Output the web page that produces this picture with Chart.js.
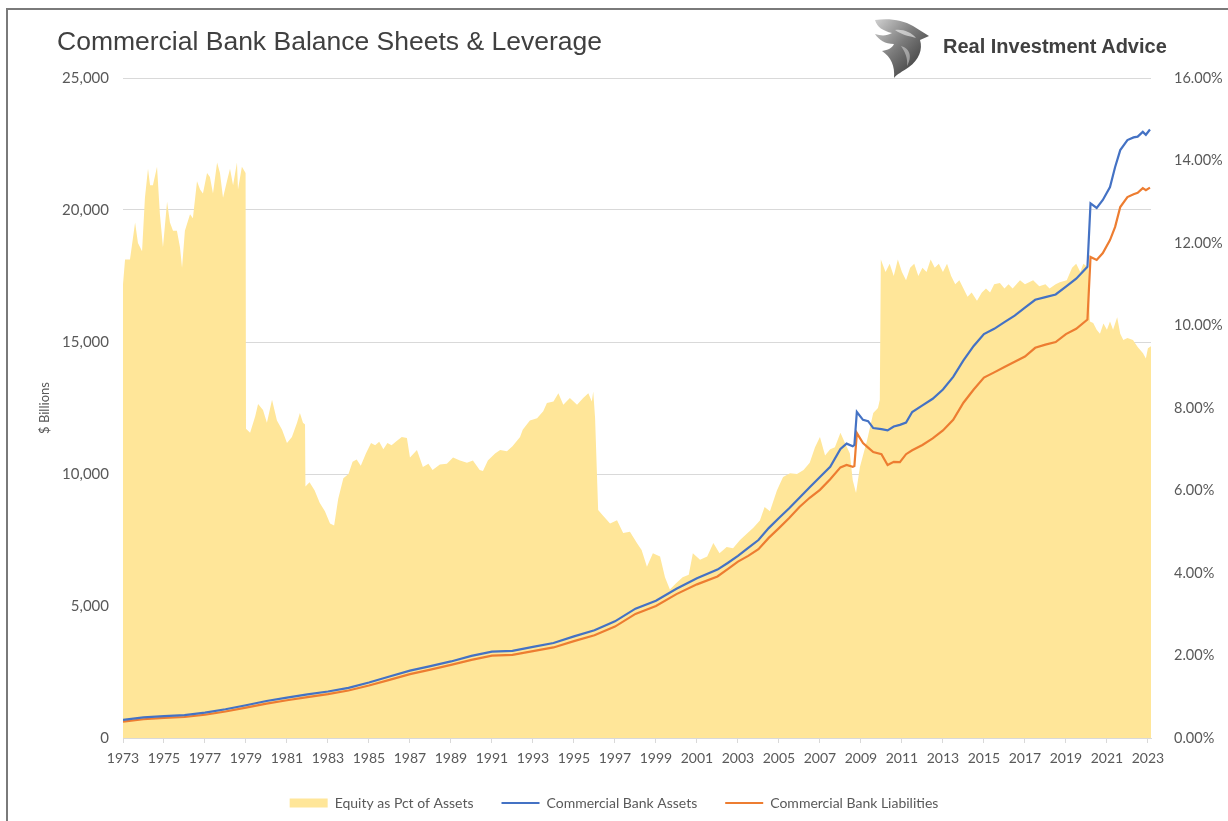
<!DOCTYPE html>
<html><head><meta charset="utf-8">
<script src="https://cdn.jsdelivr.net/npm/chart.js@4.4.0/dist/chart.umd.min.js"></script>
<style>
html,body{margin:0;padding:0;background:#fff;width:1228px;height:821px;overflow:hidden}
#wrap{position:relative;width:1228px;height:821px}
#frame{position:absolute;left:6px;top:8px;width:1260px;height:860px;border-left:2px solid #7a7a7a;border-top:2px solid #7a7a7a;pointer-events:none}
canvas{position:absolute;left:0;top:0}
#title{position:absolute;left:57px;top:26px;font:26.5px "Liberation Sans",Arial,sans-serif;color:#404040;white-space:nowrap}
#brand{position:absolute;left:943px;top:35px;font:bold 20px "Liberation Sans",Arial,sans-serif;color:#404040;white-space:nowrap}
#logo{position:absolute;left:871px;top:16px}
</style></head>
<body><div id="wrap">
<canvas id="c" width="1228" height="821"></canvas>
<div id="frame"></div>
<div id="title">Commercial Bank Balance Sheets &amp; Leverage</div>
<svg id="logo" width="62" height="62" viewBox="0 0 62 62">
<defs><linearGradient id="g" x1="0" y1="0" x2="1" y2="1"><stop offset="0" stop-color="#d0d0d0"/><stop offset="0.45" stop-color="#7a7a7a"/><stop offset="1" stop-color="#262626"/></linearGradient></defs>
<path d="M4 4 C18 2 32 4 42 10 L58 20 L49 24 C52 33 48 44 38 51 C31 56 26 58 23 62 C24 50 20 41 11 35 C17 34 21 32 23 28 C14 28 8 24 4 18 C10 20 16 20 21 17 C12 15 6 11 4 4 Z" fill="url(#g)"/>
<path d="M24 14 C32 13 40 16 45 22 C38 20 31 19 24 14 Z" fill="#fff" opacity="0.55"/>
<path d="M30 30 C38 32 42 40 36 50 C37 42 34 36 30 30 Z" fill="#fff" opacity="0.4"/>
</svg>
<div id="brand">Real Investment Advice</div>
</div>
<script>
// ---- data (year, value) ----
const xTickYears = [1973,1975,1977,1979,1981,1983,1985,1987,1989,1991,1993,1995,1997,1999,2001,2003,2005,2007,2009,2011,2013,2015,2017,2019,2021,2023];

const equityPct = [
[1973.00,11.0],[1973.10,11.6],[1973.34,11.6],[1973.59,12.5],[1973.73,12.0],[1973.93,11.8],
[1974.07,13.1],[1974.22,13.8],[1974.32,13.4],[1974.46,13.4],[1974.66,13.85],[1974.80,12.7],[1974.95,11.9],
[1975.15,13.0],[1975.29,12.5],[1975.44,12.3],[1975.63,12.3],[1975.78,11.9],[1975.88,11.4],
[1976.02,12.3],[1976.27,12.7],[1976.41,12.6],[1976.61,13.5],[1976.76,13.3],[1976.90,13.2],
[1977.10,13.7],[1977.24,13.6],[1977.39,13.2],[1977.59,13.95],[1977.73,13.7],[1977.88,13.1],
[1978.07,13.5],[1978.22,13.8],[1978.37,13.4],[1978.56,13.95],[1978.61,13.3],[1978.80,13.85],[1978.98,13.7],
[1979.00,7.5],[1979.20,7.4],[1979.45,7.8],[1979.59,8.1],[1979.83,7.95],[1980.02,7.64],[1980.27,8.2],
[1980.51,7.7],[1980.76,7.47],[1981.00,7.15],[1981.24,7.3],[1981.49,7.64],[1981.63,7.88],[1981.78,7.64],[1981.88,7.6],
[1981.90,6.1],[1982.10,6.2],[1982.35,6.0],[1982.60,5.7],[1982.85,5.5],[1983.10,5.2],[1983.30,5.15],
[1983.50,5.8],[1983.75,6.3],[1984.00,6.4],[1984.20,6.7],[1984.40,6.75],[1984.60,6.6],[1984.85,6.9],
[1985.10,7.15],[1985.30,7.1],[1985.50,7.18],[1985.70,7.0],[1985.90,7.15],[1986.10,7.1],[1986.35,7.2],
[1986.60,7.3],[1986.85,7.27],[1987.00,6.8],[1987.34,6.98],[1987.63,6.57],[1987.90,6.65],[1988.10,6.5],
[1988.46,6.63],[1988.80,6.65],[1989.10,6.8],[1989.44,6.73],[1989.78,6.67],[1990.07,6.73],[1990.40,6.5],
[1990.56,6.47],[1990.80,6.73],[1991.15,6.9],[1991.40,6.98],[1991.73,6.95],[1992.00,7.07],[1992.37,7.3],
[1992.50,7.47],[1992.85,7.7],[1993.20,7.75],[1993.50,7.92],[1993.68,8.12],[1994.00,8.16],[1994.24,8.36],
[1994.48,8.08],[1994.80,8.24],[1995.15,8.08],[1995.45,8.24],[1995.70,8.36],[1995.87,8.16],[1995.94,8.4],
[1996.03,7.76],[1996.18,5.53],[1996.40,5.4],[1996.76,5.2],[1997.10,5.28],[1997.40,4.97],[1997.73,5.0],
[1998.07,4.73],[1998.30,4.56],[1998.56,4.15],[1998.85,4.48],[1999.20,4.4],[1999.44,3.9],[1999.68,3.6],
[1999.98,3.75],[2000.30,3.9],[2000.60,3.96],[2000.80,4.48],[2001.15,4.32],[2001.50,4.4],[2001.80,4.73],
[2002.10,4.48],[2002.45,4.63],[2002.76,4.6],[2003.10,4.8],[2003.43,4.95],[2003.75,5.1],[2004.07,5.27],
[2004.30,5.6],[2004.56,5.5],[2004.90,6.0],[2005.20,6.33],[2005.54,6.42],[2005.88,6.4],[2006.20,6.5],
[2006.50,6.67],[2006.76,7.05],[2007.00,7.3],[2007.25,6.85],[2007.50,7.0],[2007.73,7.05],[2008.00,7.4],
[2008.22,7.15],[2008.46,6.9],[2008.60,6.25],[2008.76,5.94],[2008.95,6.57],[2009.30,7.22],[2009.60,7.88],
[2009.83,8.0],[2009.92,8.2],[2009.97,11.6],[2010.20,11.3],[2010.40,11.5],[2010.60,11.2],[2010.80,11.6],
[2011.00,11.3],[2011.20,11.1],[2011.40,11.4],[2011.60,11.5],[2011.80,11.2],[2012.00,11.4],[2012.20,11.3],
[2012.40,11.6],[2012.60,11.4],[2012.80,11.5],[2013.00,11.3],[2013.20,11.5],[2013.40,11.2],[2013.60,11.0],
[2013.80,11.1],[2014.00,10.9],[2014.20,10.7],[2014.40,10.8],[2014.66,10.6],[2014.90,10.8],[2015.10,10.9],
[2015.30,10.8],[2015.50,11.0],[2015.78,11.03],[2016.00,10.9],[2016.20,11.0],[2016.40,10.9],[2016.76,11.1],
[2017.00,11.0],[2017.40,11.1],[2017.70,10.95],[2018.00,11.0],[2018.20,10.9],[2018.50,11.0],[2018.70,11.05],
[2019.04,11.1],[2019.30,11.4],[2019.50,11.5],[2019.70,11.3],[2019.85,11.5],[2020.10,11.4],[2020.17,10.1],
[2020.33,10.06],[2020.50,9.9],[2020.66,9.8],[2020.83,10.05],[2021.00,9.9],[2021.15,10.1],[2021.30,9.9],
[2021.50,10.2],[2021.65,9.8],[2021.80,9.65],[2022.00,9.7],[2022.27,9.65],[2022.50,9.48],[2022.76,9.33],
[2022.90,9.2],[2023.00,9.45],[2023.15,9.5]
];

const bankAssets = [
[1973,690],[1974,780],[1975,830],[1976,870],[1977,960],[1978,1090],[1979,1240],[1980,1400],[1981,1530],
[1982,1650],[1983,1760],[1984,1900],[1985,2100],[1986,2330],[1987,2550],[1988,2720],[1989,2900],[1990,3110],
[1991,3270],[1992,3300],[1993,3450],[1994,3600],[1995,3850],[1996,4080],[1997,4420],[1998,4900],[1999,5200],
[2000,5650],[2001,6050],[2002,6380],[2002.5,6630],[2003,6900],[2003.5,7200],[2004,7500],[2004.5,7950],
[2005,8330],[2005.5,8700],[2006,9100],[2006.5,9500],[2007,9890],[2007.5,10270],[2008,10950],[2008.3,11150],
[2008.6,11050],[2008.68,11100],[2008.8,12350],[2009.1,12050],[2009.35,12000],[2009.6,11740],[2010,11700],
[2010.3,11650],[2010.6,11800],[2010.9,11860],[2011.2,11950],[2011.5,12350],[2012,12600],[2012.5,12850],
[2013,13200],[2013.5,13680],[2014,14300],[2014.5,14850],[2015,15300],[2015.5,15500],[2016,15750],
[2016.5,16000],[2017,16300],[2017.5,16600],[2018,16700],[2018.5,16800],[2019,17100],[2019.5,17400],
[2020.05,17850],[2020.2,20250],[2020.5,20080],[2020.8,20380],[2021.15,20870],[2021.4,21630],[2021.65,22270],
[2022,22650],[2022.3,22750],[2022.5,22780],[2022.75,22960],[2022.9,22850],[2023.1,23050]
];

const bankLiabilities = [
[1973,620],[1974,710],[1975,760],[1976,795],[1977,880],[1978,1005],[1979,1150],[1980,1300],[1981,1430],
[1982,1550],[1983,1660],[1984,1800],[1985,1990],[1986,2200],[1987,2420],[1988,2590],[1989,2770],[1990,2960],
[1991,3120],[1992,3150],[1993,3290],[1994,3430],[1995,3670],[1996,3890],[1997,4220],[1998,4700],[1999,5000],
[2000,5450],[2001,5820],[2002,6120],[2002.5,6400],[2003,6680],[2003.5,6900],[2004,7150],[2004.5,7580],
[2005,7950],[2005.5,8330],[2006,8750],[2006.5,9100],[2007,9400],[2007.5,9800],[2008,10250],[2008.3,10340],
[2008.6,10270],[2008.68,10300],[2008.8,11550],[2009.1,11170],[2009.35,11000],[2009.6,10830],[2010,10750],
[2010.3,10340],[2010.6,10460],[2010.9,10450],[2011.2,10750],[2011.5,10900],[2012,11100],[2012.5,11350],
[2013,11650],[2013.5,12050],[2014,12700],[2014.5,13200],[2015,13650],[2015.5,13850],[2016,14050],
[2016.5,14250],[2017,14450],[2017.5,14780],[2018,14900],[2018.5,15000],[2019,15300],[2019.5,15500],
[2020.05,15850],[2020.2,18220],[2020.5,18110],[2020.8,18370],[2021.15,18860],[2021.4,19360],[2021.65,20110],
[2022,20490],[2022.3,20600],[2022.5,20650],[2022.75,20830],[2022.9,20750],[2023.1,20850]
];

const toXY = arr => arr.map(p => ({x: p[0], y: p[1]}));
const TICK = '#595959';
const FONT = 'Lato, "Open Sans", sans-serif';

new Chart(document.getElementById('c'), {
  type: 'line',
  data: {
    datasets: [
      {label: 'Equity as Pct of Assets', data: toXY(equityPct), yAxisID: 'y1',
       backgroundColor: '#FFE699', borderColor: '#FFE699', borderWidth: 0, fill: 'origin',
       pointRadius: 0, tension: 0, order: 1},
      {label: 'Commercial Bank Assets', data: toXY(bankAssets), yAxisID: 'y',
       borderColor: '#4472C4', backgroundColor: '#4472C4', borderWidth: 2.2, fill: false,
       pointRadius: 0, tension: 0, order: 0},
      {label: 'Commercial Bank Liabilities', data: toXY(bankLiabilities), yAxisID: 'y',
       borderColor: '#ED7D31', backgroundColor: '#ED7D31', borderWidth: 2.2, fill: false,
       pointRadius: 0, tension: 0, order: 0}
    ]
  },
  options: {
    responsive: false, animation: false,
    layout: {padding: {left: 0, right: 0, top: 78, bottom: 1}},
    scales: {
      x: {type: 'linear', min: 1973, max: 2023.15,
          afterBuildTicks: s => { s.ticks = xTickYears.map(v => ({value: v})); },
          afterFit: s => { s.height = 30; },
          ticks: {autoSkip: false, maxRotation: 0, padding: 7, color: TICK, font: {family: FONT, size: 14},
                  callback: v => String(v)},
          grid: {drawOnChartArea: false, drawTicks: true, tickLength: 5, color: '#d9d9d9'},
          border: {display: true, color: '#d9d9d9'}},
      y: {position: 'left', min: 0, max: 25000,
          afterFit: s => { s.width = 123; },
          ticks: {stepSize: 5000, padding: 14, color: TICK, font: {family: FONT, size: 15},
                  callback: v => v.toLocaleString('en-US')},
          grid: {color: '#d9d9d9', drawTicks: false},
          border: {display: false},
          title: {display: true, text: '$ Billions', color: TICK, font: {family: FONT, size: 13},
                  padding: {top: 37, bottom: 0}}},
      y1: {position: 'right', min: 0, max: 16,
           afterFit: s => { s.width = 77; },
           ticks: {stepSize: 2, padding: 15, color: TICK, font: {family: FONT, size: 14.5},
                   callback: v => v.toFixed(2) + '%'},
           grid: {display: false}, border: {display: false}}
    },
    plugins: {
      tooltip: {enabled: false},
      legend: {position: 'bottom',
        labels: {usePointStyle: true, pointStyleWidth: 38, boxHeight: 9, padding: 28,
                 color: TICK, font: {family: FONT, size: 14},
                 sort: (a, b) => a.datasetIndex - b.datasetIndex,
                 generateLabels: chart => Chart.defaults.plugins.legend.labels.generateLabels(chart).map(it => {
                   it.pointStyle = it.datasetIndex === 0 ? 'rect' : 'line';
                   if (it.datasetIndex === 0) { it.lineWidth = 0; it.fillStyle = '#FFE699'; }
                   return it;
                 })}}
    }
  }
});
</script>
</body></html>
